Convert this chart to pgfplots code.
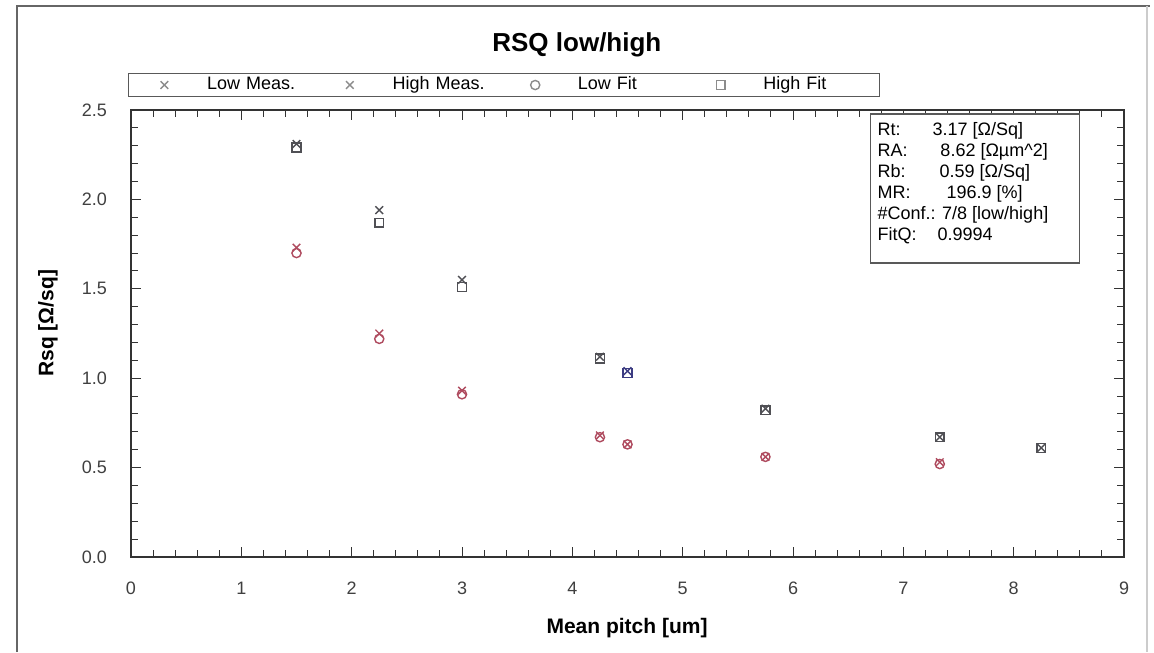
\documentclass[border=0pt]{standalone}
\usepackage{pgfplots}
\pgfplotsset{compat=1.18}
\usepackage{fontspec}
\setmainfont{Liberation Sans}
\definecolor{upc}{RGB}{80,80,85}
\definecolor{loc}{RGB}{175,75,95}
\definecolor{bluec}{RGB}{60,60,130}
\newcommand\statline[3]{\makebox[97.5pt][l]{\makebox[#1][l]{#2}#3}}
\begin{document}
\begin{tikzpicture}[x=0.5pt,y=-0.5pt]
\useasboundingbox (0,0) rectangle (1154,652);
\fill[white] (0,0) rectangle (1154,652);
\draw[black!60, line width=1pt] (17,652) -- (17,6.5) -- (1150,6.5);
\draw[black!20, line width=1pt] (1147,6.5) -- (1147,652);
\begin{axis}[
  at={(65.5pt,-278.5pt)}, anchor=south west,
  scale only axis, width=496.5pt, height=223.5pt,
  xmin=0, xmax=9, ymin=0, ymax=2.5,
  xtick={0,1,...,9}, ytick={0,0.5,1,1.5,2,2.5},
  minor x tick num=4, minor y tick num=4,
  tick align=inside, major tick length=5pt, minor tick length=3.5pt,
  axis line style={black!80, line width=0.6pt},
  every tick/.style={black!80, line width=0.5pt},
  /pgf/number format/assume math mode=true,
  xticklabel style={font=\fontsize{9}{10}\selectfont, text=black!75, yshift=-9pt},
  yticklabel style={font=\fontsize{9}{10}\selectfont, text=black!75, xshift=-8.5pt,
     /pgf/number format/.cd, fixed, fixed zerofill, precision=1},
  title={\textbf{RSQ low/high}},
  title style={at={(rel axis cs:0.449,1.118)}, anchor=center, font=\fontsize{13}{14}\selectfont},
  xlabel={\textbf{Mean pitch [um]}},
  xlabel style={at={(rel axis cs:0.4995,-0.159)}, anchor=center, font=\fontsize{10.5}{12}\selectfont},
  ylabel={\textbf{Rsq [Ω/sq]}},
  ylabel style={at={(rel axis cs:-0.0836,0.523)}, anchor=center, font=\fontsize{10.5}{12}\selectfont},
  legend columns=4,
  legend style={at={(rel axis cs:-0.003,1.029)}, anchor=south west,
     draw=black!65, line width=0.7pt, inner xsep=0pt, inner ysep=1.5pt,
     font=\fontsize{9}{10}\selectfont,
     nodes={inner sep=0pt, text height=6.5pt, text depth=1.8pt, anchor=west, text width=53.5pt},
     /tikz/every odd column/.append style={column sep=0pt},
     /tikz/every even column/.append style={column sep=0pt},
     /tikz/column 8/.append style={nodes={text width=58pt}}},
  legend image code/.code={\path (0pt,0pt) (38.5pt,0pt); \draw[mark repeat=2,mark phase=2,#1] plot coordinates {(0pt,0pt)(17.5pt,0pt)(35pt,0pt)};},
  legend image post style={black!45},
]
% Low Meas. (lower level)
\addplot[only marks, mark=x, mark size=2.7pt, color=loc, line width=0.7pt] coordinates {
  (1.5,1.73) (2.25,1.25) (3.0,0.93) (4.25,0.68) (4.5,0.63) (5.75,0.56) (7.33,0.53)};
\addlegendentry{Low Meas.}
% High Meas. (upper level)
\addplot[only marks, mark=x, mark size=2.7pt, color=upc, line width=0.7pt] coordinates {
  (1.5,2.31) (2.25,1.94) (3.0,1.55) (4.25,1.12) (5.75,0.83) (7.33,0.67) (8.25,0.61)};
\addlegendentry{High Meas.}
% Low Fit
\addplot[only marks, mark=o, mark size=2.3pt, color=loc, line width=0.7pt] coordinates {
  (1.5,1.70) (2.25,1.22) (3.0,0.91) (4.25,0.67) (4.5,0.63) (5.75,0.56) (7.33,0.52)};
\addlegendentry{Low Fit}
% High Fit
\addplot[only marks, mark=square, mark size=2.2pt, color=upc, line width=0.7pt] coordinates {
  (1.5,2.29) (2.25,1.87) (3.0,1.51) (4.25,1.11) (5.75,0.82) (7.33,0.67) (8.25,0.61)};
\addlegendentry{High Fit}
% point drawn in blue at 4.5
\addplot[forget plot, only marks, mark=x, mark size=2.7pt, color=bluec, line width=0.7pt] coordinates {(4.5,1.04)};
\addplot[forget plot, only marks, mark=square, mark size=2.2pt, color=bluec, line width=0.7pt] coordinates {(4.5,1.03)};
\node[draw=black!65, line width=0.7pt, fill=white, anchor=north west, inner xsep=3.5pt, inner ysep=4.5pt,
      align=left, font=\fontsize{9}{10.5}\selectfont]
  at (rel axis cs:0.744,0.993)
  {\statline{27.5pt}{Rt:}{3.17 [Ω/Sq]}\\
   \statline{31.5pt}{RA:}{8.62 [Ωµm\textasciicircum 2]}\\
   \statline{31pt}{Rb:}{0.59 [Ω/Sq]}\\
   \statline{34.5pt}{MR:}{196.9 [\%]}\\
   \statline{0pt}{}{\#Conf.: 7/8 [low/high]}\\
   \statline{30pt}{FitQ:}{0.9994}\rule[-6.5pt]{0pt}{0pt}};
\end{axis}
\end{tikzpicture}
\end{document}
